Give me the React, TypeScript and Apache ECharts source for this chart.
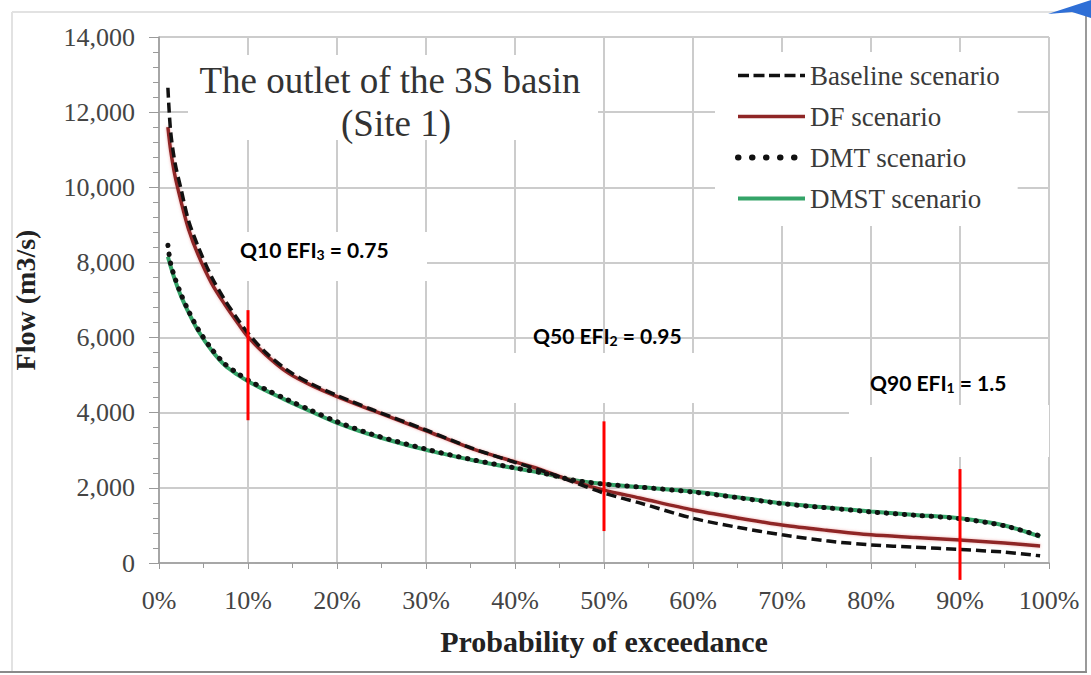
import React, { useEffect, useRef } from 'react';
import * as echarts from 'echarts';

// Probability of exceedance (%) sampled along the duration curves
const exceedancePct = [1, 1.3, 1.8, 2.5, 3.3, 4.4, 5.9, 7.4, 8.9, 10, 12, 14.5, 17, 20, 24, 30, 35, 40, 43, 46.5, 50, 54, 60, 65, 70, 75, 80, 85, 90, 95, 99];

// Flow (m3/s) per scenario
const baselineFlow = [12650, 11500, 10650, 9930, 9130, 8420, 7620, 7000, 6470, 6120, 5600, 5120, 4780, 4460, 4080, 3540, 3070, 2680, 2460, 2160, 1860, 1600, 1190, 950, 750, 590, 480, 420, 360, 290, 190];
const dfFlow = [11600, 11000, 10300, 9600, 8900, 8200, 7450, 6880, 6370, 6020, 5540, 5060, 4740, 4430, 4060, 3520, 3060, 2690, 2480, 2180, 1940, 1730, 1410, 1200, 1010, 870, 750, 680, 610, 530, 450];
const dmtFlow = [8460, 7980, 7580, 7140, 6720, 6220, 5700, 5300, 5040, 4870, 4620, 4340, 4070, 3760, 3420, 3030, 2760, 2530, 2400, 2210, 2100, 2020, 1890, 1740, 1580, 1470, 1360, 1270, 1180, 990, 720];
const dmstFlow = [8150, 7900, 7530, 7090, 6680, 6180, 5660, 5260, 5000, 4840, 4590, 4310, 4040, 3730, 3400, 3010, 2750, 2520, 2400, 2210, 2100, 2020, 1900, 1750, 1590, 1480, 1370, 1280, 1190, 1000, 700];

const seriesNames = ['Baseline scenario', 'DF scenario', 'DMT scenario', 'DMST scenario'];

// Environmental flow index markers (red vertical bars)
const qPct = [10, 50, 90];
const qTop = [6730, 3770, 2500];
const qBottom = [3800, 850, -450];
const qLabel = ['Q10 EFI', 'Q50 EFI', 'Q90 EFI'];
const qSub = ['3', '2', '1'];
const qValue = ['0.75', '0.95', '1.5'];

const chartTitle = ['The outlet of the 3S basin', '(Site 1)'];
const xTitle = 'Probability of exceedance';
const yTitle = 'Flow (m3/s)';

export default function App() {
  const ref = useRef<HTMLDivElement>(null);

  useEffect(() => {
    if (!ref.current) return;
    const chart = echarts.init(ref.current, null, { renderer: 'svg' });
    const serif = '"Liberation Serif", "Times New Roman", serif';
    const sans = 'Lato, "Open Sans", sans-serif';
    const pair = (ys: number[]) => exceedancePct.map((x, i) => [x, ys[i]]);

    const flowSeries: any[] = [
      { name: seriesNames[3], data: pair(dmstFlow), color: '#34a468', lineStyle: { color: '#34a468', width: 4 }, z: 2 },
      { name: seriesNames[1], data: pair(dfFlow), color: '#8f2626', lineStyle: { color: '#8f2626', width: 3.5, shadowColor: 'rgba(230,120,120,0.6)', shadowBlur: 3 }, z: 3 },
      { name: seriesNames[0], data: pair(baselineFlow), color: '#111', lineStyle: { color: '#111', width: 3.5, type: [10, 5] }, z: 4 },
      { name: seriesNames[2], data: pair(dmtFlow), color: '#111', lineStyle: { color: '#111', width: 5, type: [0.5, 8.5], cap: 'round' }, z: 5 },
    ].map((s) => ({ type: 'line', symbol: 'none', showSymbol: false, smooth: 0.3, ...s }));

    const markerSeries = qPct.map((x, i) => ({
      type: 'line',
      name: 'marker' + i,
      symbol: 'none',
      clip: false,
      z: 6,
      data: [[x, qTop[i]], [x, qBottom[i]]],
      lineStyle: { color: '#ff0000', width: 3 },
    }));

    const boxes = [
      { x: 188, y: 55, w: 410, h: 85 },
      { x: 220, y: 232, w: 207, h: 49 },
      { x: 513, y: 353, w: 207, h: 50 },
      { x: 849, y: 405, w: 200, h: 52 },
    ];
    const qTextPos = [
      { x: 240, y: 249 },
      { x: 533, y: 335 },
      { x: 870, y: 382 },
    ];

    const richStyle = {
      a: { fontSize: 21, fontWeight: 'bold', fontFamily: sans, fill: '#000' },
      b: { fontSize: 14, fontWeight: 'bold', fontFamily: sans, fill: '#000', padding: [10, 0, 0, 0], verticalAlign: 'top' },
    };

    const graphic: any[] = [
      ...boxes.map((b) => ({ type: 'rect', z: 1, shape: { x: b.x, y: b.y, width: b.w, height: b.h }, style: { fill: '#fff' } })),
      ...qTextPos.map((p, i) => ({
        type: 'text', z: 10, x: p.x, y: p.y,
        style: { text: `{a|${qLabel[i]}}{b|${qSub[i]}}{a| = ${qValue[i]}}`, rich: richStyle, verticalAlign: 'middle', align: 'left' },
      })),
      { type: 'text', z: 10, x: 390, y: 80, style: { text: chartTitle[0], fontSize: 37, fontFamily: serif, fill: '#333', align: 'center', verticalAlign: 'middle' } },
      { type: 'text', z: 10, x: 396, y: 123, style: { text: chartTitle[1], fontSize: 37, fontFamily: serif, fill: '#333', align: 'center', verticalAlign: 'middle' } },
      { type: 'line', z: 10, shape: { x1: 12, y1: 12, x2: 1086, y2: 12 }, style: { stroke: '#e2e2e2', lineWidth: 2 } },
      { type: 'line', z: 10, shape: { x1: 12, y1: 12, x2: 12, y2: 672 }, style: { stroke: '#e2e2e2', lineWidth: 2 } },
      { type: 'line', z: 10, shape: { x1: 1086, y1: 14, x2: 1086, y2: 672 }, style: { stroke: '#9a9a9a', lineWidth: 2 } },
      { type: 'line', z: 10, shape: { x1: 0, y1: 672, x2: 1087, y2: 672 }, style: { stroke: '#8a8a8a', lineWidth: 2 } },
      { type: 'polygon', z: 10, shape: { points: [[1048, 14], [1091, 0], [1091, 18], [1072, 12]] }, style: { fill: '#2f6fd6' } },
    ];

    const option: any = {
      animation: false,
      backgroundColor: '#fff',
      grid: { left: 159, right: 42, top: 37, bottom: 112 },
      legend: {
        orient: 'vertical',
        left: 715,
        top: 52,
        backgroundColor: '#fff',
        padding: [10, 18, 14, 20],
        itemWidth: 67,
        itemHeight: 14,
        itemGap: 14,
        itemStyle: { opacity: 0 },
        textStyle: { fontFamily: serif, fontSize: 27, color: '#3a3a3a' },
        data: [
          { name: seriesNames[0], lineStyle: { color: '#111', width: 3.5, type: [11, 4.5] } },
          { name: seriesNames[1], lineStyle: { color: '#8f2626', width: 3.5 } },
          { name: seriesNames[2], lineStyle: { color: '#111', width: 6, type: [0.5, 13.5], cap: 'round' } },
          { name: seriesNames[3], lineStyle: { color: '#34a468', width: 4 } },
        ],
      },
      xAxis: {
        type: 'value',
        min: 0,
        max: 100,
        interval: 10,
        name: xTitle,
        nameLocation: 'middle',
        nameGap: 63,
        nameTextStyle: { fontFamily: serif, fontSize: 30, fontWeight: 'bold', color: '#222' },
        axisLine: { show: true, lineStyle: { color: '#9a9a9a', width: 1.5 } },
        axisTick: { show: true, length: 6, lineStyle: { color: '#9a9a9a' } },
        minorTick: { show: true, splitNumber: 2, length: 5, lineStyle: { color: '#9a9a9a' } },
        axisLabel: { formatter: '{value}%', fontFamily: serif, fontSize: 26, color: '#444', margin: 24 },
        splitLine: { show: true, lineStyle: { color: '#cccccc', width: 2 } },
      },
      yAxis: {
        type: 'value',
        min: 0,
        max: 14000,
        interval: 2000,
        name: yTitle,
        nameLocation: 'middle',
        nameGap: 120,
        nameTextStyle: { fontFamily: serif, fontSize: 28, fontWeight: 'bold', color: '#222' },
        axisLine: { show: true, lineStyle: { color: '#9a9a9a', width: 1.5 } },
        axisTick: { show: true, length: 10, lineStyle: { color: '#9a9a9a' } },
        minorTick: { show: true, splitNumber: 5, length: 6, lineStyle: { color: '#9a9a9a' } },
        axisLabel: { formatter: (v: number) => v.toLocaleString('en-US'), fontFamily: serif, fontSize: 26, color: '#444', margin: 24 },
        splitLine: { show: true, lineStyle: { color: '#cccccc', width: 2 } },
      },
      graphic,
      series: [...flowSeries, ...markerSeries],
    };

    chart.setOption(option);
    return () => chart.dispose();
  }, []);

  return (
    <div
      ref={ref}
      style={{ position: 'fixed', left: 0, top: 0, width: 1091, height: 675, background: '#fff' }}
    />
  );
}
